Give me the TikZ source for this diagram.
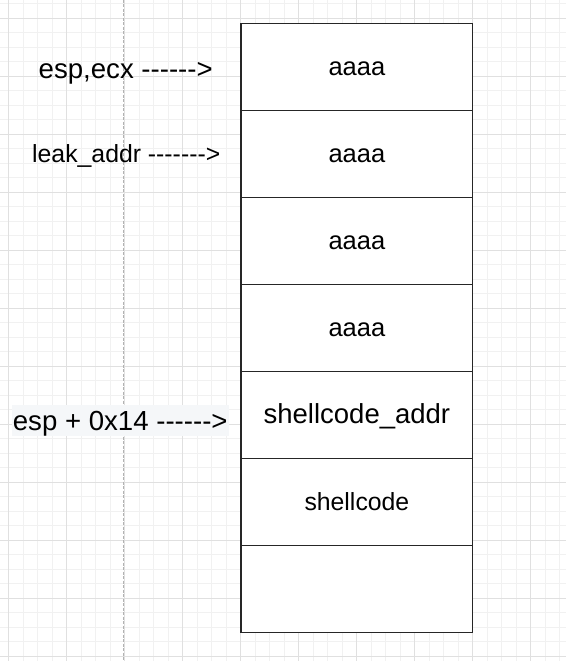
\documentclass[tikz,border=0pt]{standalone}
\usepackage{fontspec}
\setmainfont{Liberation Sans}[Ligatures=TeXOff]
\usetikzlibrary{positioning}
\definecolor{gridminor}{HTML}{F1F1F1}
\definecolor{gridmajor}{HTML}{E0E0E0}
\definecolor{labelbg}{HTML}{F5F7F9}
\definecolor{boxline}{HTML}{262626}
\tikzset{
  slot/.style={draw=boxline, line width=1.3pt, fill=white, minimum width=231.7pt,
    minimum height=87pt, inner sep=0pt, outer sep=0pt, text height=18pt, text depth=0pt},
  pointer/.style={anchor=base west, inner sep=0pt}
}
\begin{document}
\begin{tikzpicture}[x=1pt,y=-1pt]
\useasboundingbox (0,0) rectangle (566,661);
\fill[white] (0,0) rectangle (566,661);
\begin{scope}
\clip (0,0) rectangle (566,661);
\foreach \i in {0,...,40} \draw[gridminor,line width=0.8pt] ({-5.8+14.5*\i},0) -- ({-5.8+14.5*\i},661);
\foreach \j in {0,...,46} \draw[gridminor,line width=0.8pt] (0,{-10.7+14.5*\j}) -- (566,{-10.7+14.5*\j});
\foreach \i in {0,...,9} \draw[gridmajor,line width=0.8pt] ({8.7+58*\i},0) -- ({8.7+58*\i},661);
\foreach \j in {0,...,11} \draw[gridmajor,line width=0.8pt] (0,{18.3+58*\j}) -- (566,{18.3+58*\j});
\draw[gray!60, line width=0.8pt, dash pattern=on 3pt off 1.5pt] (123.3,0) -- (123.3,661);
\end{scope}

\node[slot, font=\fontsize{25.5}{30}\selectfont] (s1) at (356.9,66.8) {aaaa};
\node[slot, font=\fontsize{25.5}{30}\selectfont, below=0pt of s1] (s2) {aaaa};
\node[slot, font=\fontsize{25.5}{30}\selectfont, below=0pt of s2] (s3) {aaaa};
\node[slot, font=\fontsize{25.5}{30}\selectfont, below=0pt of s3] (s4) {aaaa};
\node[slot, font=\fontsize{27.5}{32}\selectfont, below=0pt of s4] (saddr) {shellcode\_addr};
\node[slot, font=\fontsize{24.8}{29}\selectfont, below=0pt of saddr] (scode) {shellcode};
\node[slot, below=0pt of scode] (sempty) {};

\node[pointer, font=\fontsize{27.6}{32}\selectfont] (especx) at (38.5,78) {esp,ecx ------>};
\node[pointer, font=\fontsize{24.8}{29}\selectfont] (leak) at (32,162) {leak\_addr ------->};
\node[pointer, fill=labelbg, inner xsep=1pt, text height=25pt, text depth=6pt,
  font=\fontsize{27.6}{32}\selectfont] (espoff) at (11.7,430) {esp + 0x14 ------>};
\end{tikzpicture}
\end{document}
